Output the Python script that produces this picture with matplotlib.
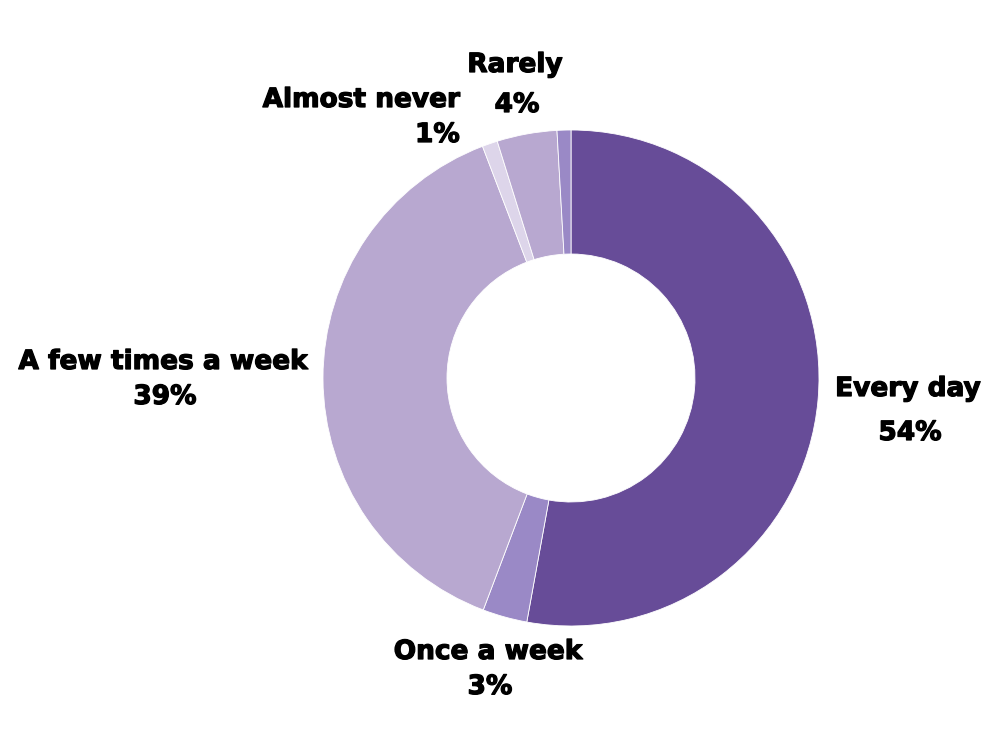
import matplotlib.pyplot as plt
import matplotlib.patheffects as pe

# slices, clockwise from 12 o'clock
categories = ['Every day', 'Once a week', 'A few times a week', 'Almost never', 'Rarely', '']
values = [52.8, 2.9, 38.4, 1.0, 3.9, 0.9]
pct_labels = ['54%', '3%', '39%', '1%', '4%', '']
colors = ['#674C98', '#9A89C6', '#B8A8D0', '#DDD5EA', '#B8A8D0', '#9A89C6']

plt.rcParams['font.family'] = ['DejaVu Sans']

fig = plt.figure(figsize=(10, 7.5), dpi=100)
ax = fig.add_axes([0, 0, 1, 1])

ax.pie(values, colors=colors, startangle=90, counterclock=False,
       center=(571, 372), radius=248, frame=True,
       wedgeprops=dict(width=124, edgecolor='white', linewidth=0.6))
ax.set_xlim(0, 1000)
ax.set_ylim(0, 750)
ax.set_aspect('equal')
ax.axis('off')

# label placement (x, y, ha, gap to percent line)
label_pos = [(908, 361, 'center', 44),
             (488, 98, 'center', 35),
             (163, 388, 'center', 35),
             (460, 650, 'right', 35),
             (515, 685, 'center', 40)]

heavy = [pe.withStroke(linewidth=0.9, foreground='black')]

for i, (x, y, ha, gap) in enumerate(label_pos):
    ax.text(x, y, categories[i], ha=ha, va='center', fontsize=19,
            fontweight='bold', color='black', path_effects=heavy)
    ax.text(x if ha == 'right' else x + 2, y - gap, pct_labels[i], ha=ha,
            va='center', fontsize=19, fontweight='bold', color='black',
            path_effects=heavy)

fig.savefig('out.png', dpi=100)
